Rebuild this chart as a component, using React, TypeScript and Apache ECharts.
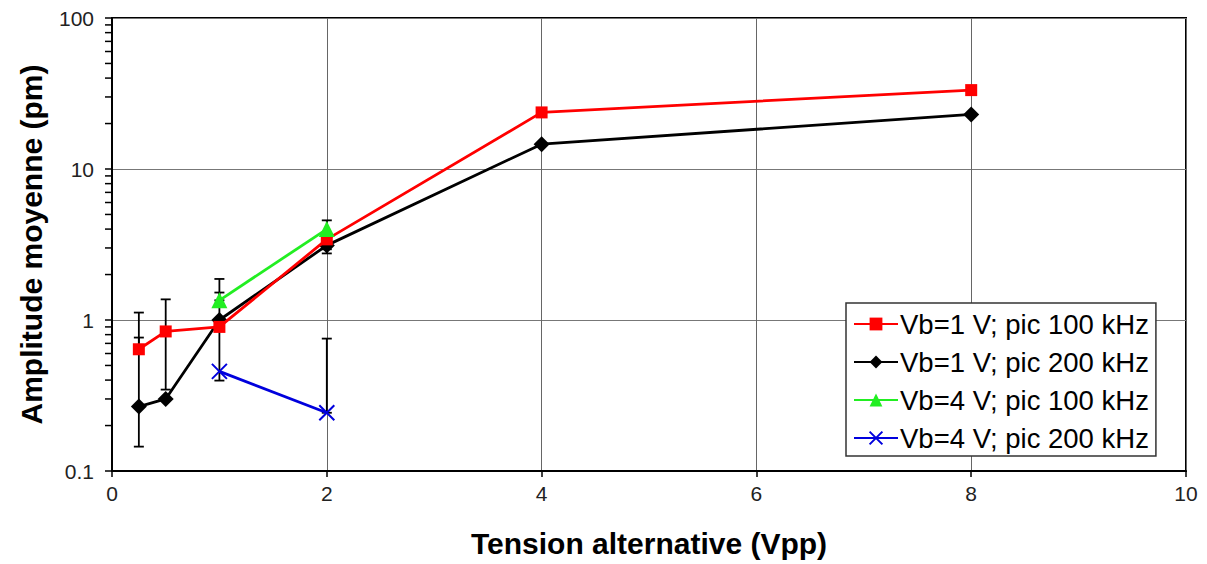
import React, { useEffect, useRef } from "react";
import * as echarts from "echarts";

const xValues = [0.25, 0.5, 1, 2, 4, 8];
const redValues = [0.64, 0.84, 0.9, 3.42, 23.7, 33.3];
const blackValues = [0.267, 0.3, 1.0, 3.12, 14.6, 23.0];
const greenX = [1, 2];
const greenValues = [1.35, 4.0];
const blueX = [1, 2];
const blueValues = [0.457, 0.243];
// error bars: [x, low, high]
const errorBars: number[][] = [
  [0.25, 0.145, 1.12],
  [0.25, 0.64, 0.765],
  [0.5, 0.346, 1.37],
  [1, 0.397, 1.52],
  [1, 1.35, 1.87],
  [2, 2.76, 4.57],
  [2, 2.94, 3.12],
  [2, 0.243, 0.753],
];
const yMinorTicks = [
  0.2, 0.3, 0.4, 0.5, 0.6, 0.7, 0.8, 0.9,
  2, 3, 4, 5, 6, 7, 8, 9,
  20, 30, 40, 50, 60, 70, 80, 90,
];
const seriesNames = [
  "Vb=1 V; pic 100 kHz",
  "Vb=1 V; pic 200 kHz",
  "Vb=4 V; pic 100 kHz",
  "Vb=4 V; pic 200 kHz",
];

const FONT = "'Liberation Sans', Arial, sans-serif";

export default function App() {
  const ref = useRef<HTMLDivElement>(null);
  useEffect(() => {
    if (!ref.current) return;
    const chart = echarts.init(ref.current, undefined, { renderer: "svg" });
    const zip = (xs: number[], ys: number[]) => xs.map((x, i) => [x, ys[i]]);
    chart.setOption({
      animation: false,
      backgroundColor: "#fff",
      textStyle: { fontFamily: FONT },
      grid: {
        left: 112,
        right: 21,
        top: 18,
        bottom: 93,
        show: true,
        borderColor: "#000",
        borderWidth: 2,
      },
      xAxis: {
        type: "value",
        min: 0,
        max: 10,
        interval: 2,
        name: "Tension alternative (Vpp)",
        nameLocation: "middle",
        nameGap: 57,
        nameTextStyle: { fontSize: 30, fontWeight: "bold", color: "#000", fontFamily: FONT },
        axisLine: { show: true, lineStyle: { color: "#000", width: 2 } },
        axisTick: { show: true, length: 6, inside: false, lineStyle: { color: "#000", width: 1.5 } },
        axisLabel: { fontSize: 21, color: "#222", margin: 12, fontFamily: FONT },
        splitLine: { show: true, lineStyle: { color: "#666", width: 1 } },
      },
      yAxis: {
        type: "log",
        logBase: 10,
        min: 0.1,
        max: 100,
        name: "Amplitude moyenne (pm)",
        nameLocation: "middle",
        nameRotate: 90,
        nameGap: 66,
        nameTextStyle: { fontSize: 30, fontWeight: "bold", color: "#000", fontFamily: FONT },
        axisLine: { show: true, lineStyle: { color: "#000", width: 2 } },
        axisTick: { show: true, length: 7, inside: false, lineStyle: { color: "#000", width: 1.5 } },
        axisLabel: {
          fontSize: 21,
          color: "#222",
          margin: 18,
          fontFamily: FONT,
          formatter: (v: number) => String(+v.toPrecision(3)),
        },
        splitLine: { show: true, lineStyle: { color: "#777", width: 1 } },
      },
      legend: {
        data: seriesNames,
        orient: "vertical",
        left: 846,
        top: 303,
        padding: [7, 7, 4, 7],
        itemGap: 10,
        itemWidth: 44,
        itemHeight: 16,
        backgroundColor: "#fff",
        borderColor: "#333",
        borderWidth: 1.5,
        borderRadius: 0,
        textStyle: { fontSize: 27.5, color: "#000", fontFamily: FONT, padding: [0, 0, 0, -3] },
      },
      series: [
        {
          type: "custom",
          name: "minorTicks",
          silent: true,
          clip: false,
          data: yMinorTicks.map((v) => [0, v]),
          encode: { x: 0, y: 1 },
          renderItem: (params: any, api: any) => {
            const p = api.coord([0, api.value(1)]);
            return {
              type: "line",
              shape: { x1: p[0] - 7, y1: p[1], x2: p[0] - 1, y2: p[1] },
              style: { stroke: "#000", lineWidth: 1.5 },
            };
          },
          z: 1,
        },
        {
          type: "custom",
          name: "errors",
          silent: true,
          clip: false,
          data: errorBars,
          encode: { x: 0, y: [1, 2] },
          renderItem: (params: any, api: any) => {
            const x = api.value(0);
            const lo = api.coord([x, api.value(1)]);
            const hi = api.coord([x, api.value(2)]);
            const w = 5;
            const st = { stroke: "#000", lineWidth: 1.8 };
            return {
              type: "group",
              children: [
                { type: "line", shape: { x1: lo[0], y1: lo[1], x2: hi[0], y2: hi[1] }, style: st },
                { type: "line", shape: { x1: lo[0] - w, y1: lo[1], x2: lo[0] + w, y2: lo[1] }, style: st },
                { type: "line", shape: { x1: hi[0] - w, y1: hi[1], x2: hi[0] + w, y2: hi[1] }, style: st },
              ],
            };
          },
          z: 2,
        },
        {
          type: "line",
          name: seriesNames[1],
          data: zip(xValues, blackValues),
          symbol: "diamond",
          symbolSize: 16,
          color: "#000",
          lineStyle: { color: "#000", width: 2.8 },
          itemStyle: { color: "#000" },
          z: 3,
        },
        {
          type: "line",
          name: seriesNames[0],
          data: zip(xValues, redValues),
          symbol: "rect",
          symbolSize: 12,
          color: "#ff0000",
          lineStyle: { color: "#ff0000", width: 2.8 },
          itemStyle: { color: "#ff0000" },
          z: 4,
        },
        {
          type: "line",
          name: seriesNames[2],
          data: zip(greenX, greenValues),
          symbol: "triangle",
          symbolSize: 16,
          color: "#22ee22",
          lineStyle: { color: "#22ee22", width: 2.8 },
          itemStyle: { color: "#22ee22" },
          z: 5,
        },
        {
          type: "line",
          name: seriesNames[3],
          data: zip(blueX, blueValues),
          symbol: "path://M0,0L10,10M0,10L10,0",
          symbolSize: 15,
          color: "#0000dd",
          lineStyle: { color: "#0000dd", width: 2.8 },
          itemStyle: { color: "#0000dd", borderColor: "#0000dd", borderWidth: 2 },
          z: 6,
        },
      ],
    });
    return () => chart.dispose();
  }, []);
  return (
    <div
      ref={ref}
      style={{ position: "fixed", left: 0, top: 0, width: 1207, height: 564 }}
    />
  );
}
